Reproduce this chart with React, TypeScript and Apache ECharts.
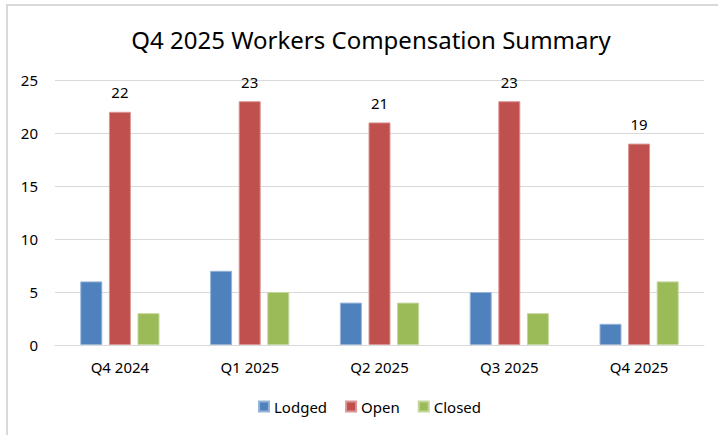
import React, { useEffect, useRef } from "react";
import * as echarts from "echarts";

const categories = ["Q4 2024", "Q1 2025", "Q2 2025", "Q3 2025", "Q4 2025"];
const lodged = [6, 7, 4, 5, 2];
const open = [22, 23, 21, 23, 19];
const closed = [3, 5, 4, 3, 6];
const yTicks = [0, 5, 10, 15, 20, 25];

const FONT = "'Noto Sans', sans-serif";

export default function App() {
  const ref = useRef<HTMLDivElement>(null);
  useEffect(() => {
    if (!ref.current) return;
    const chart = echarts.init(ref.current, undefined, { renderer: "svg" });
    chart.setOption({
      animation: false,
      backgroundColor: "#ffffff",
      textStyle: { fontFamily: FONT },
      graphic: [
        {
          type: "rect",
          shape: { x: 7, y: 5, width: 740, height: 460 },
          style: { fill: "none", stroke: "#d9d9d9", lineWidth: 2 },
          silent: true,
        },
      ],
      title: {
        text: "Q4 2025 Workers Compensation Summary",
        left: 366,
        textAlign: "center",
        top: 22,
        textStyle: { fontFamily: FONT, fontSize: 24, fontWeight: "normal", color: "#000000" },
      },
      legend: {
        bottom: 16,
        left: 253,
        itemWidth: 10,
        itemHeight: 10,
        itemGap: 18,
        icon: "rect",
        textStyle: { fontFamily: FONT, fontSize: 15, color: "#000000" },
        data: ["Lodged", "Open", "Closed"],
      },
      grid: { left: 55, right: 14, top: 80, bottom: 90, containLabel: false },
      xAxis: {
        type: "category",
        data: categories,
        axisTick: { show: false },
        axisLine: { lineStyle: { color: "#d9d9d9", width: 1 } },
        axisLabel: { fontFamily: FONT, fontSize: 15, color: "#000000", margin: 14 },
      },
      yAxis: {
        type: "value",
        min: yTicks[0],
        max: yTicks[yTicks.length - 1],
        interval: 5,
        axisLine: { show: false },
        axisTick: { show: false },
        splitLine: { lineStyle: { color: "#d9d9d9", width: 1 } },
        axisLabel: { fontFamily: FONT, fontSize: 15, color: "#000000", margin: 17 },
      },
      series: [
        {
          name: "Lodged",
          type: "bar",
          data: lodged,
          barGap: "30%",
          barCategoryGap: "39%",
          itemStyle: { color: "#4F81BD", borderColor: "#95b3d7", borderWidth: 1 },
        },
        {
          name: "Open",
          type: "bar",
          data: open,
          barGap: "30%",
          barCategoryGap: "39%",
          itemStyle: { color: "#C0504D", borderColor: "#d99694", borderWidth: 1 },
          label: {
            show: true,
            position: "top",
            distance: 12,
            fontFamily: FONT,
            fontSize: 15,
            color: "#000000",
          },
        },
        {
          name: "Closed",
          type: "bar",
          data: closed,
          barGap: "30%",
          barCategoryGap: "39%",
          itemStyle: { color: "#9BBB59", borderColor: "#c3d69b", borderWidth: 1 },
        },
      ],
    });
    return () => chart.dispose();
  }, []);
  return <div ref={ref} style={{ width: 718, height: 435, position: "absolute", left: 0, top: 0 }} />;
}
